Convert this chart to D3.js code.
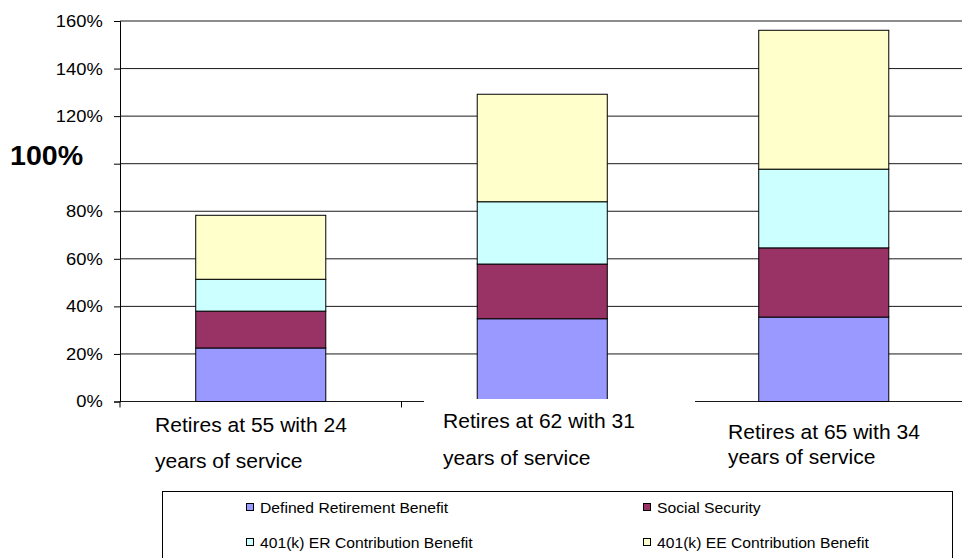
<!DOCTYPE html>
<html>
<head>
<meta charset="utf-8">
<script src="https://cdn.jsdelivr.net/npm/d3@7"></script>
<style>
  html, body { margin: 0; padding: 0; background: #fff; }
  svg { display: block; font-family: "Liberation Sans", Arial, sans-serif; }
</style>
</head>
<body>
<svg id="chart" width="962" height="558"></svg>
<script>
// ---- data ----
const categories = ["Retires at 55 with 24 years of service", "Retires at 62 with 31 years of service", "Retires at 65 with 34 years of service"];
const categoryLine1 = ["Retires at 55 with 24", "Retires at 62 with 31", "Retires at 65 with 34"];
const categoryLine2 = ["years of service", "years of service", "years of service"];
const seriesNames = ["Defined Retirement Benefit", "Social Security", "401(k) ER Contribution Benefit", "401(k) EE Contribution Benefit"];
const definedBenefit = [22.5, 34.8, 35.5];
const socialSecurity = [15.5, 23.0, 29.1];
const erContribution = [13.4, 26.2, 33.1];
const eeContribution = [26.9, 45.2, 58.4];
const tickValues = [0, 20, 40, 60, 80, 100, 120, 140, 160];
const tickLabels = ["0%", "20%", "40%", "60%", "80%", "", "120%", "140%", "160%"];
const highlightLabel = "100%";

(function () {
const colors = ["#9999FF", "#993366", "#CCFFFF", "#FFFFCC"];
const keys = ["d", "s", "er", "ee"];

const rows = categories.map((c, i) => ({
  cat: c, d: definedBenefit[i], s: socialSecurity[i], er: erContribution[i], ee: eeContribution[i]
}));

const svg = d3.select("#chart");
const plotLeft = 120, plotRight = 964.5, plotTop = 21, plotBottom = 401.5;

const x = d3.scaleBand().domain(categories).range([plotLeft, plotRight]).paddingInner(0.538).paddingOuter(0.269);
const y = d3.scaleLinear().domain([0, 160]).range([plotBottom, plotTop]);

// stretched text helper
function stext(parent, tx, ty, str, size, sx, weight) {
  return parent.append("text")
    .attr("transform", `translate(${tx},${ty}) scale(${sx},1)`)
    .attr("font-size", size).attr("font-weight", weight || "normal")
    .attr("fill", "#000").text(str);
}

// gridlines
svg.append("g").selectAll("line").data(tickValues).join("line")
  .attr("x1", plotLeft).attr("x2", 962)
  .attr("y1", d => y(d)).attr("y2", d => y(d))
  .attr("stroke", "#1a1a1a").attr("stroke-width", 1);

// y axis
const yAxis = d3.axisLeft(y).tickValues(tickValues).tickSize(6).tickPadding(10)
  .tickFormat((d, i) => tickLabels[i]);
const ya = svg.append("g").attr("transform", `translate(${plotLeft},0)`).call(yAxis);
ya.select(".domain").attr("stroke", "#000");
ya.selectAll(".tick line").attr("stroke", "#000");
ya.selectAll(".tick text").attr("font-size", 17).attr("fill", "#000")
  .attr("transform", "scale(1.08,1)")
  .attr("font-family", "'Liberation Sans', Arial, sans-serif");

// category ticks below axis
const catEdges = [0, 1, 2, 3].map(k => plotLeft + k * x.step());
svg.append("g").selectAll("line").data(catEdges).join("line")
  .attr("x1", d => d).attr("x2", d => d)
  .attr("y1", plotBottom).attr("y2", plotBottom + 6)
  .attr("stroke", "#000");

// bars
const stacked = d3.stack().keys(keys)(rows);
svg.append("g").selectAll("g").data(stacked).join("g")
  .attr("fill", (d, i) => colors[i])
  .selectAll("rect").data(d => d).join("rect")
  .attr("x", d => x(d.data.cat))
  .attr("width", x.bandwidth())
  .attr("y", d => y(d[1]))
  .attr("height", d => y(d[0]) - y(d[1]))
  .attr("stroke", "#000").attr("stroke-width", 1);

// bold 100% label
stext(svg, 10, 165, highlightLabel, 27, 1.06, "bold");

// category labels
const labelPos = [
  {x: 155, y1: 432, y2: 468},
  {x: 443, y1: 428, y2: 465},
  {x: 728, y1: 439, y2: 464}
];
// white background of the middle label box covering the axis
svg.append("rect").attr("x", 424).attr("y", 399).attr("width", 271).attr("height", 76).attr("fill", "#fff");

const cl = svg.append("g");
categories.forEach((c, i) => {
  stext(cl, labelPos[i].x, labelPos[i].y1, categoryLine1[i], 19.5, 1.08);
  stext(cl, labelPos[i].x, labelPos[i].y2, categoryLine2[i], 19.5, 1.08);
});

// legend
svg.append("rect").attr("x", 162.5).attr("y", 491.5).attr("width", 790).attr("height", 100)
  .attr("fill", "#fff").attr("stroke", "#000");
const legPos = [
  {x: 246, y: 503}, {x: 643, y: 503}, {x: 246, y: 538}, {x: 643, y: 538}
];
const lg = svg.append("g");
seriesNames.forEach((n, i) => {
  lg.append("rect").attr("x", legPos[i].x + 0.5).attr("y", legPos[i].y + 0.5)
    .attr("width", 7).attr("height", 7).attr("fill", colors[i]).attr("stroke", "#000");
  stext(lg, legPos[i].x + 14, legPos[i].y + 9.5, n, 14, 1.12);
});
})();
</script>
</body>
</html>
